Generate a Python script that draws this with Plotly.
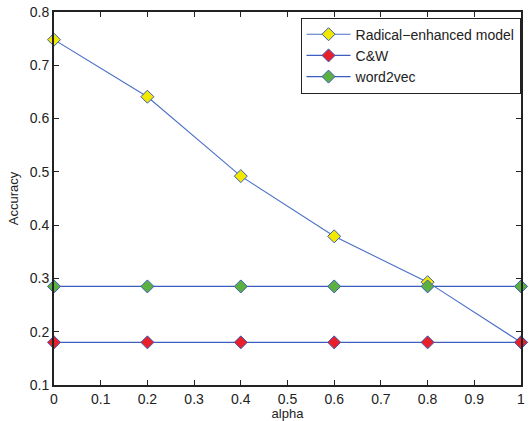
import plotly.graph_objects as go

alpha = [0, 0.2, 0.4, 0.6, 0.8, 1.0]
radical = [0.748, 0.641, 0.492, 0.379, 0.293, 0.180]
cw = [0.180, 0.180, 0.180, 0.180, 0.180, 0.180]
w2v = [0.285, 0.285, 0.285, 0.285, 0.285, 0.285]
names = ["Radical−enhanced model", "C&W", "word2vec"]
line_colors = ["#4a6fc8", "#3d5fbf", "#3a5cbc"]
marker_colors = ["#f2e800", "#e8202a", "#5cb040"]

fig = go.Figure()
for ys, nm, lc, mc in zip([radical, cw, w2v], names, line_colors, marker_colors):
    fig.add_trace(go.Scatter(
        x=alpha, y=ys, name=nm, mode="lines+markers",
        line=dict(color=lc, width=1.1),
        marker=dict(symbol="diamond", size=10, color=mc,
                    line=dict(color="#3a5cb8", width=1)),
        cliponaxis=False,
    ))

axis_common = dict(
    showgrid=False, zeroline=False, showline=True, linecolor="#222222",
    linewidth=2, mirror="ticks", ticks="inside", ticklen=5, tickwidth=1,
    automargin=False,
    tickcolor="#222222", tickfont=dict(family="Liberation Sans, Arial", size=14, color="#222222"),
)

fig.update_layout(
    width=529, height=421,
    margin=dict(l=54, r=8, t=12, b=36),
    paper_bgcolor="white", plot_bgcolor="white",
    font=dict(family="Liberation Sans, Arial", color="#222222"),
    xaxis=dict(range=[0, 1], dtick=0.1, tick0=0,
               title=dict(text="alpha", font=dict(size=13), standoff=2),
               **axis_common),
    yaxis=dict(range=[0.1, 0.8], dtick=0.1, tick0=0.1,
               title=dict(text="Accuracy", font=dict(size=13), standoff=8),
               **axis_common),
    legend=dict(x=0.999, y=0.985, xanchor="right", yanchor="top",
                bgcolor="white", bordercolor="#222222", borderwidth=1,
                font=dict(size=14, color="#222222"), itemwidth=44,
                tracegroupgap=0),
    showlegend=True,
)

fig.write_html("out.html", config={"displayModeBar": False},
               post_script="document.body.style.margin='0';document.body.style.overflow='hidden';")
